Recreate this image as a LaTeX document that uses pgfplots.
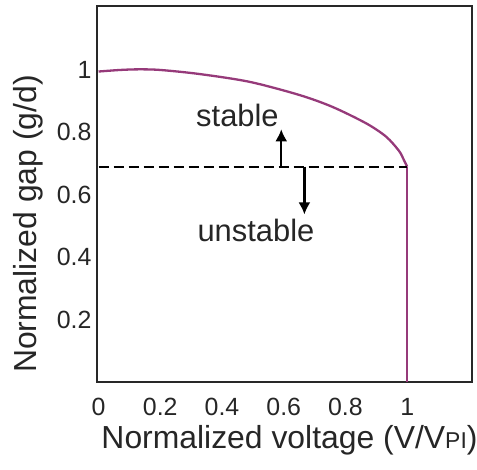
\documentclass[border=0pt]{standalone}
\usepackage{pgfplots}
\pgfplotsset{compat=1.18}
\usepackage{fontspec}
\setmainfont{Liberation Sans}
\usetikzlibrary{calc,arrows.meta}
\definecolor{curvepurple}{RGB}{150,58,122}
\definecolor{axgray}{RGB}{40,40,40}
\begin{document}
\begin{tikzpicture}
\begin{axis}[
  scale only axis,
  width=375bp, height=376bp,
  xmin=-0.005, xmax=1.21,
  ymin=0, ymax=1.205,
  xtick={0,0.2,0.4,0.6,0.8,1},
  xticklabels={0,0.2,0.4,0.6,0.8,1},
  ytick={0.2,0.4,0.6,0.8,1},
  yticklabels={0.2,0.4,0.6,0.8,1},
  major tick length=0pt,
  axis line style={axgray, line width=1.8bp},
  /pgf/number format/assume math mode=true,
  tick label style={font=\fontsize{25}{25}\selectfont, text=black!85},
  xticklabel style={yshift=-13bp},
  yticklabel style={xshift=-2bp},
  label style={font=\fontsize{32}{32}\selectfont, text=black!85},
  xlabel={Normalized voltage (V/V{\fontsize{23}{23}\selectfont PI})},
  ylabel={Normalized gap (g/d)},
  xlabel style={yshift=-2bp, xshift=5bp},
  ylabel style={at={(axis description cs:-0.184,0.42)}, anchor=center},
  clip=false,
]
\addplot[curvepurple, line width=2.3bp, smooth, tension=0.5] coordinates {
  (0,0.995) (0.07,1.0) (0.13,1.002) (0.2,1.0) (0.327,0.987) (0.489,0.962)
  (0.65,0.92) (0.757,0.882) (0.867,0.829) (0.932,0.786) (0.974,0.74)
  (0.99,0.71) (1.0,0.69)
};
\addplot[curvepurple, line width=2.3bp] coordinates {(1.0,0.69) (1.0,0)};
\addplot[black, line width=1.8bp, dash pattern=on 10bp off 5bp] coordinates {(0,0.69) (1.0,0.69)};
\addplot[black, line width=2.2bp, -{Latex[length=12bp,width=12bp]}] coordinates {(0.592,0.69) (0.592,0.81)};
\addplot[black, line width=2.2bp, -{Latex[length=12bp,width=12bp]}] coordinates {(0.667,0.69) (0.667,0.537)};
\node[font=\fontsize{31}{31}\selectfont, text=black!85] at (axis cs:0.45,0.855) {stable};
\node[font=\fontsize{31}{31}\selectfont, text=black!85] at (axis cs:0.51,0.487) {unstable};
\coordinate (bl) at (rel axis cs:0,0);
\coordinate (tr) at (rel axis cs:1,1);
\end{axis}
\pgfresetboundingbox
\path ($(bl)+(-97bp,-88bp)$) rectangle ($(tr)+(5bp,6bp)$);
\end{tikzpicture}
\end{document}
